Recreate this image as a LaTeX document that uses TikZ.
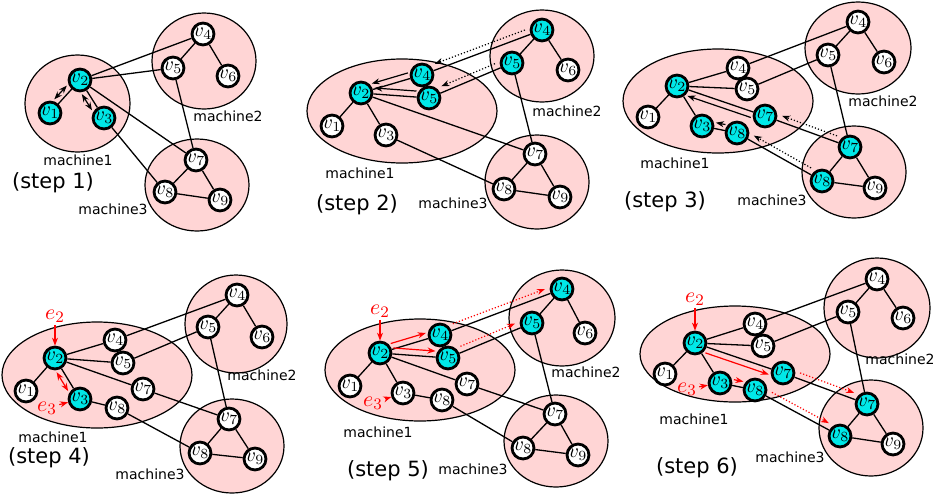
\documentclass[tikz,border=0pt]{standalone}
\usepackage{fontspec}
\setmainfont{DejaVu Sans}
\usetikzlibrary{arrows.meta,calc}

\definecolor{machpink}{RGB}{255,213,213}
\definecolor{hotcyan}{RGB}{0,232,232}

\tikzset{
  machine/.style={draw, line width=0.6pt, fill=machpink},
  vtx/.style={circle, draw, line width=1.4pt, fill=white, inner sep=0pt,
              minimum size=10pt, font=\normalsize},
  hot/.style={vtx, fill=hotcyan},
  link/.style={line width=0.65pt},
  msg/.style={line width=0.6pt, -{Stealth[length=4pt,width=3pt]},
              shorten <=6.5pt, shorten >=6.5pt},
  swap/.style={msg, {Stealth[length=4pt,width=3pt]}-{Stealth[length=4pt,width=3pt]}},
  copymsg/.style={msg, densely dotted, shorten <=8pt, shorten >=8pt},
  hint/.style={red, line width=0.6pt, -{Stealth[length=4pt,width=3pt]}},
  hintlabel/.style={text=red, inner sep=1pt, font=\fontsize{11}{13}\selectfont},
  mlabel/.style={font=\fontsize{7}{8}\selectfont},
  steplabel/.style={font=\fontsize{10.5}{12}\selectfont},
}

% arrow running beside the edge #2--#3, on side #4 (90 or -90)
\newcommand{\sidearrow}[4][]{%
  \draw[#1] ($(#2)!3pt!#4:(#3)$) -- ($(#3)!-3pt!#4:(#2)$);}

\begin{document}
\begin{tikzpicture}[x=0.5pt, y=-0.5pt]
  \useasboundingbox (0,0) rectangle (935,493);

  % step 1
  \begin{scope}[name prefix=s1-]
    \draw[machine] (77.5,103.5) ellipse [x radius=52.5, y radius=48.5];
    \draw[machine] (204,61) ellipse [x radius=52, y radius=48];
    \draw[machine] (197,185) ellipse [x radius=52, y radius=46];
    \node[mlabel] (m1) at (78,160) {machine1};
    \node[mlabel] (m2) at (228,116) {machine2};
    \node[mlabel] (m3) at (113,209) {machine3};
    \node[hot] (v1) at (50,113) {$v_1$};
    \node[hot] (v2) at (80,80) {$v_2$};
    \node[hot] (v3) at (104,118) {$v_3$};
    \node[vtx] (v4) at (203,34) {$v_4$};
    \node[vtx] (v5) at (173,68) {$v_5$};
    \node[vtx] (v6) at (228,76) {$v_6$};
    \node[vtx] (v7) at (196,160) {$v_7$};
    \node[vtx] (v8) at (165,192) {$v_8$};
    \node[vtx] (v9) at (220,200) {$v_9$};
    \draw[link] (v2) -- (v1) (v2) -- (v3) (v2) -- (v4) (v2) -- (v5)
      (v2) -- (v7) (v3) -- (v8) (v4) -- (v5) (v4) -- (v6) (v5) -- (v7)
      (v7) -- (v8) (v7) -- (v9) (v8) -- (v9);
    \sidearrow[swap]{v2}{v1}{-90}
    \sidearrow[swap]{v2}{v3}{-90}
    \node[steplabel] (st) at (53,183) {(step 1)};
  \end{scope}

  % step 2
  \begin{scope}[name prefix=s2-]
    \draw[machine] (402,111) ellipse [x radius=95, y radius=52];
    \draw[machine] (542,56) ellipse [x radius=52, y radius=46];
    \draw[machine] (537,182) ellipse [x radius=52, y radius=47];
    \node[mlabel] (m1) at (360,173) {machine1};
    \node[mlabel] (m2) at (567,111) {machine2};
    \node[mlabel] (m3) at (453,203) {machine3};
    \node[vtx] (v1) at (332,126) {$v_1$};
    \node[hot] (v2) at (361,93) {$v_2$};
    \node[vtx] (v3) at (386,135) {$v_3$};
    \node[hot] (c4) at (422,75) {$v_4$};
    \node[hot] (c5) at (429,98) {$v_5$};
    \node[hot] (v4) at (542,30) {$v_4$};
    \node[hot] (v5) at (512,63) {$v_5$};
    \node[vtx] (v6) at (568,70) {$v_6$};
    \node[vtx] (v7) at (535,154) {$v_7$};
    \node[vtx] (v8) at (504,189) {$v_8$};
    \node[vtx] (v9) at (560,197) {$v_9$};
    \draw[link] (v2) -- (v1) (v2) -- (v3) (v2) -- (v7) (v3) -- (v8)
      (v2) -- (c4) (v2) -- (c5) (c4) -- (v4) (c5) -- (v5)
      (v4) -- (v5) (v4) -- (v6) (v5) -- (v7)
      (v7) -- (v8) (v7) -- (v9) (v8) -- (v9);
    \sidearrow[msg]{c4}{v2}{-90}
    \sidearrow[msg]{c5}{v2}{-90}
    \sidearrow[copymsg]{v4}{c4}{-90}
    \sidearrow[copymsg]{v5}{c5}{-90}
    \node[steplabel] (st) at (357,205) {(step 2)};
  \end{scope}

  % step 3
  \begin{scope}[name prefix=s3-]
    \draw[machine] (718,101) ellipse [x radius=95, y radius=52];
    \draw[machine] (858,48) ellipse [x radius=53, y radius=46];
    \draw[machine] (854,172) ellipse [x radius=52, y radius=46];
    \node[mlabel] (m1) at (675,163) {machine1};
    \node[mlabel] (m2) at (883,101) {machine2};
    \node[mlabel] (m3) at (772,200) {machine3};
    \node[vtx] (v1) at (648,117) {$v_1$};
    \node[hot] (v2) at (677,86) {$v_2$};
    \node[hot] (v3) at (702,126) {$v_3$};
    \node[vtx] (c4) at (738,68) {$v_4$};
    \node[vtx] (c5) at (747,89) {$v_5$};
    \node[hot] (c7) at (765,116) {$v_7$};
    \node[hot] (c8) at (737,133) {$v_8$};
    \node[vtx] (v4) at (858,22) {$v_4$};
    \node[vtx] (v5) at (828,55) {$v_5$};
    \node[vtx] (v6) at (884,62) {$v_6$};
    \node[hot] (v7) at (850,147) {$v_7$};
    \node[hot] (v8) at (822,181) {$v_8$};
    \node[vtx] (v9) at (875,188) {$v_9$};
    \draw[link] (v2) -- (v1) (v2) -- (v3) (v2) -- (c4) (v2) -- (c5)
      (v2) -- (c7) (v3) -- (c8) (c4) -- (v4) (c5) -- (v5)
      (c7) -- (v7) (c8) -- (v8) (v4) -- (v5) (v4) -- (v6) (v5) -- (v7)
      (v7) -- (v8) (v7) -- (v9) (v8) -- (v9);
    \sidearrow[msg]{c7}{v2}{90}
    \sidearrow[msg]{c8}{v3}{-90}
    \sidearrow[copymsg]{v7}{c7}{-90}
    \sidearrow[copymsg]{v8}{c8}{-90}
    \node[steplabel] (st) at (665,202) {(step 3)};
  \end{scope}

  % step 4
  \begin{scope}[name prefix=s4-]
    \draw[machine] (97,375) ellipse [x radius=95, y radius=53];
    \draw[machine] (236,324) ellipse [x radius=51, y radius=49];
    \draw[machine] (232,446) ellipse [x radius=52, y radius=47];
    \node[mlabel] (m1) at (53,437) {machine1};
    \node[mlabel] (m2) at (262,375) {machine2};
    \node[mlabel] (m3) at (150,474) {machine3};
    \node[vtx] (v1) at (26,391) {$v_1$};
    \node[hot] (v2) at (55,358) {$v_2$};
    \node[hot] (v3) at (80,399) {$v_3$};
    \node[vtx] (c4) at (115,340) {$v_4$};
    \node[vtx] (c5) at (123,363) {$v_5$};
    \node[vtx] (c7) at (143,389) {$v_7$};
    \node[vtx] (c8) at (117,408) {$v_8$};
    \node[vtx] (v4) at (237,295) {$v_4$};
    \node[vtx] (v5) at (208,327) {$v_5$};
    \node[vtx] (v6) at (262,337) {$v_6$};
    \node[vtx] (v7) at (229,419) {$v_7$};
    \node[vtx] (v8) at (200,453) {$v_8$};
    \node[vtx] (v9) at (255,459) {$v_9$};
    \draw[link] (v2) -- (v1) (v2) -- (v3) (v2) -- (c4) (v2) -- (c5)
      (v2) -- (c7) (v3) -- (c8) (c4) -- (v4) (c5) -- (v5)
      (c7) -- (v7) (c8) -- (v8) (v4) -- (v5) (v4) -- (v6) (v5) -- (v7)
      (v7) -- (v8) (v7) -- (v9) (v8) -- (v9);
    \node[hintlabel] (e2) at (55,316) {$e_2$};
    \node[hintlabel] (e3) at (47,408) {$e_3$};
    \draw[hint] (e2) -- (v2);
    \draw[hint] (e3) -- (v3);
    \sidearrow[swap, red]{v2}{v3}{-90}
    \node[steplabel] (st) at (49,458) {(step 4)};
  \end{scope}

  % step 5
  \begin{scope}[name prefix=s5-]
    \draw[machine] (420,370) ellipse [x radius=95, y radius=51];
    \draw[machine] (562,318) ellipse [x radius=53, y radius=48];
    \draw[machine] (556,441) ellipse [x radius=52, y radius=46];
    \node[mlabel] (m1) at (378,432) {machine1};
    \node[mlabel] (m2) at (586,372) {machine2};
    \node[mlabel] (m3) at (473,469) {machine3};
    \node[vtx] (v1) at (350,386) {$v_1$};
    \node[hot] (v2) at (380,353) {$v_2$};
    \node[vtx] (v3) at (403,393) {$v_3$};
    \node[hot] (c4) at (440,335) {$v_4$};
    \node[hot] (c5) at (448,358) {$v_5$};
    \node[vtx] (c7) at (467,384) {$v_7$};
    \node[vtx] (c8) at (442,400) {$v_8$};
    \node[hot] (v4) at (562,289) {$v_4$};
    \node[hot] (v5) at (532,323) {$v_5$};
    \node[vtx] (v6) at (585,333) {$v_6$};
    \node[vtx] (v7) at (555,414) {$v_7$};
    \node[vtx] (v8) at (523,448) {$v_8$};
    \node[vtx] (v9) at (578,455) {$v_9$};
    \draw[link] (v2) -- (v1) (v2) -- (v3) (v2) -- (c4) (v2) -- (c5)
      (v2) -- (c7) (v3) -- (c8) (c4) -- (v4) (c5) -- (v5)
      (c7) -- (v7) (c8) -- (v8) (v4) -- (v5) (v4) -- (v6) (v5) -- (v7)
      (v7) -- (v8) (v7) -- (v9) (v8) -- (v9);
    \node[hintlabel] (e2) at (380,311) {$e_2$};
    \node[hintlabel] (e3) at (373,403) {$e_3$};
    \draw[hint] (e2) -- (v2);
    \draw[hint] (e3) -- (v3);
    \sidearrow[msg, red]{v2}{c4}{90}
    \sidearrow[msg, red]{v2}{c5}{90}
    \sidearrow[copymsg, red]{c4}{v4}{90}
    \sidearrow[copymsg, red]{c5}{v5}{90}
    \node[steplabel] (st) at (388,471) {(step 5)};
  \end{scope}

  % step 6
  \begin{scope}[name prefix=s6-]
    \draw[machine] (735,354) ellipse [x radius=95, y radius=48];
    \draw[machine] (877,308) ellipse [x radius=53, y radius=50];
    \draw[machine] (871,428) ellipse [x radius=52, y radius=48];
    \node[mlabel] (m1) at (694,419) {machine1};
    \node[mlabel] (m2) at (900,359) {machine2};
    \node[mlabel] (m3) at (790,457) {machine3};
    \node[vtx] (v1) at (665,374) {$v_1$};
    \node[hot] (v2) at (695,343) {$v_2$};
    \node[hot] (v3) at (720,383) {$v_3$};
    \node[vtx] (c4) at (755,324) {$v_4$};
    \node[vtx] (c5) at (763,346) {$v_5$};
    \node[hot] (c7) at (783,373) {$v_7$};
    \node[hot] (c8) at (755,390) {$v_8$};
    \node[vtx] (v4) at (877,279) {$v_4$};
    \node[vtx] (v5) at (848,312) {$v_5$};
    \node[vtx] (v6) at (903,318) {$v_6$};
    \node[hot] (v7) at (867,404) {$v_7$};
    \node[hot] (v8) at (840,436) {$v_8$};
    \node[vtx] (v9) at (893,444) {$v_9$};
    \draw[link] (v2) -- (v1) (v2) -- (v3) (v2) -- (c4) (v2) -- (c5)
      (v2) -- (c7) (v3) -- (c8) (c4) -- (v4) (c5) -- (v5)
      (c7) -- (v7) (c8) -- (v8) (v4) -- (v5) (v4) -- (v6) (v5) -- (v7)
      (v7) -- (v8) (v7) -- (v9) (v8) -- (v9);
    \node[hintlabel] (e2) at (695,299) {$e_2$};
    \node[hintlabel] (e3) at (687,389) {$e_3$};
    \draw[hint] (e2) -- (v2);
    \draw[hint] (e3) -- (v3);
    \sidearrow[msg, red]{v2}{c7}{-90}
    \sidearrow[msg, red]{v3}{c8}{90}
    \sidearrow[copymsg, red]{c7}{v7}{90}
    \sidearrow[copymsg, red]{c8}{v8}{90}
    \node[steplabel] (st) at (697,468) {(step 6)};
  \end{scope}
\end{tikzpicture}
\end{document}
